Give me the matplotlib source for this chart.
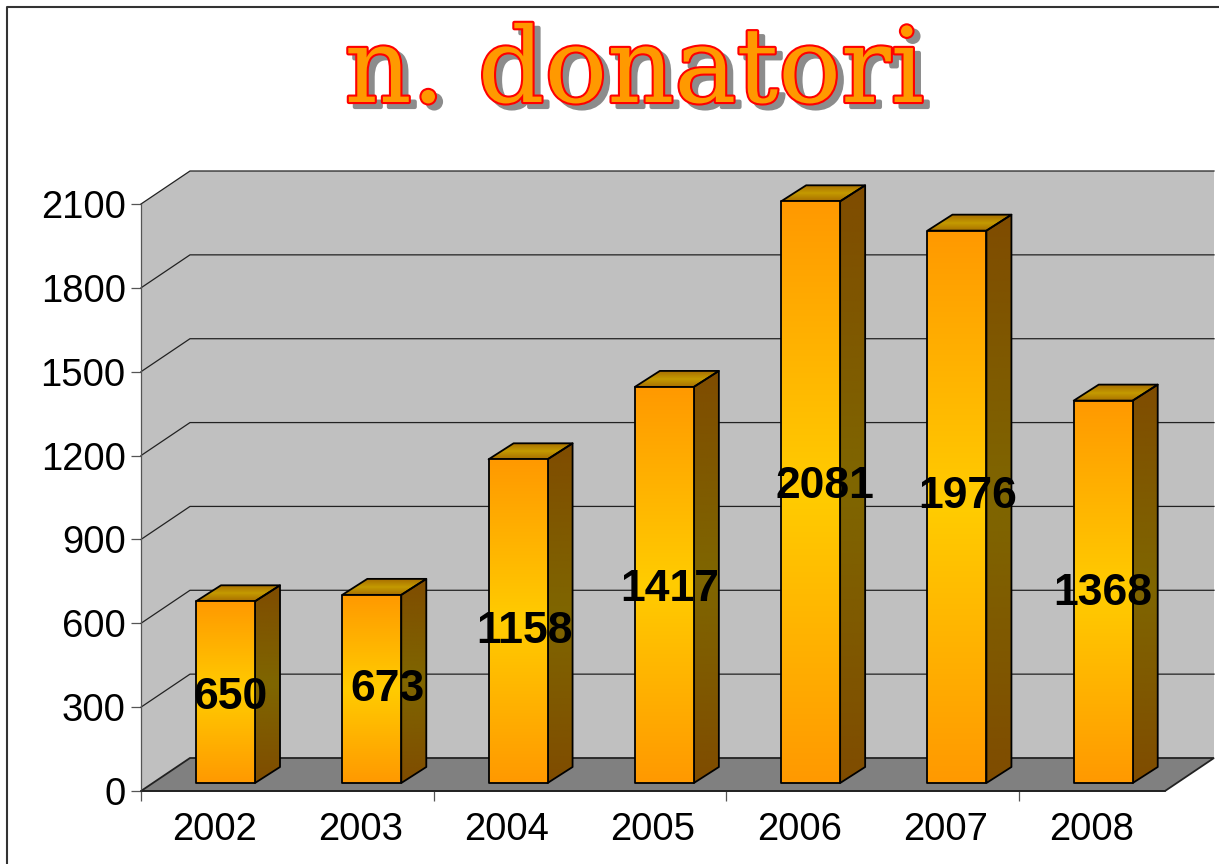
import matplotlib
matplotlib.use('Agg')
from matplotlib import pyplot as plt
from matplotlib.colors import LinearSegmentedColormap
from matplotlib.lines import Line2D
from matplotlib.patches import Polygon
import matplotlib.patheffects as pe
import numpy as np

years = ['2002', '2003', '2004', '2005', '2006', '2007', '2008']
donors = [650, 673, 1158, 1417, 2081, 1976, 1368]
y_ticks = [0, 300, 600, 900, 1200, 1500, 1800, 2100]
title = 'n. donatori'

# label nudges, pixels from bar middle
label_dx = [5, 16, 6, 5, 14, 11, 0]
label_dy = [-5, -1, -10, -5, 6, 10, -2]

W, H = 1219, 864
X0, X1, Y0, Y1 = 141, 1165, 791, 204

fig = plt.figure(figsize=(W / 100, H / 100), dpi=100)
ax = fig.add_axes([X0 / W, 1 - Y0 / H, (X1 - X0) / W, (Y0 - Y1) / H])
ax.set_xlim(0, 7)
ax.set_ylim(0, 2100)
ax.set_autoscale_on(False)
ax.patch.set_visible(False)

# pixels to data units
px_x = 7 / (X1 - X0)
px_y = 2100 / (Y0 - Y1)

wall_dx, wall_dy = 49 * px_x, 33 * px_y
bar_dx, bar_dy = 25 * px_x, 16 * px_y
bar_w = 59 * px_x
bar_off = 55 * px_x
bar_base = 8 * px_y

front_cm = LinearSegmentedColormap.from_list('front', ['#ff9900', '#ffcc00', '#ff9900'])
side_cm = LinearSegmentedColormap.from_list('side', ['#7f4c00', '#7f6600', '#7f4c00'])
top_cm = LinearSegmentedColormap.from_list('top', ['#a86f00', '#c49a00', '#a86f00'])
grad = np.linspace(0, 1, 256).reshape(-1, 1)


def poly(pts, **kw):
    p = Polygon(pts, closed=True, clip_on=False, **kw)
    ax.add_patch(p)
    return p


def face(pts, cmap, z):
    pts = np.array(pts)
    p = poly(pts, facecolor='none', edgecolor='black', linewidth=1.3, zorder=z + 0.1, joinstyle='round')
    im = ax.imshow(grad, cmap=cmap, aspect='auto', origin='lower', zorder=z, vmin=0, vmax=1,
                   extent=[pts[:, 0].min(), pts[:, 0].max(), pts[:, 1].min(), pts[:, 1].max()])
    # the top of the tall bars sticks out of the axes box
    im.set_clip_box(fig.bbox)
    im.set_clip_path(p)


# walls and floor
poly([(wall_dx, wall_dy), (7 + wall_dx, wall_dy), (7 + wall_dx, 2100 + wall_dy), (wall_dx, 2100 + wall_dy)],
     facecolor='#c0c0c0', edgecolor='none', zorder=1)
poly([(0, 0), (wall_dx, wall_dy), (wall_dx, 2100 + wall_dy), (0, 2100)],
     facecolor='#c0c0c0', edgecolor='none', zorder=1)
poly([(0, 0), (7, 0), (7 + wall_dx, wall_dy), (wall_dx, wall_dy)],
     facecolor='#808080', edgecolor='#222222', linewidth=1.3, zorder=1.5)

for v in y_ticks[1:]:
    ax.plot([0, wall_dx, 7 + wall_dx], [v, v + wall_dy, v + wall_dy], color='#222222', lw=0.9,
            clip_on=False, zorder=2)

# bars
for i, v in enumerate(donors):
    x = i + bar_off
    b = bar_base
    t = bar_base + v
    z = 3 + i
    face([(x + bar_w, b), (x + bar_w + bar_dx, b + bar_dy), (x + bar_w + bar_dx, t + bar_dy), (x + bar_w, t)], side_cm, z)
    face([(x, t), (x + bar_w, t), (x + bar_w + bar_dx, t + bar_dy), (x + bar_dx, t + bar_dy)], top_cm, z)
    face([(x, b), (x + bar_w, b), (x + bar_w, t), (x, t)], front_cm, z + 0.3)

for i, v in enumerate(donors):
    ax.annotate(str(v), (i + bar_off + bar_w / 2, bar_base + v / 2),
                xytext=(label_dx[i] * 0.72, label_dy[i] * 0.72), textcoords='offset points',
                ha='center', va='center', fontsize=32, fontweight='bold',
                family='Liberation Sans', color='black', zorder=20, annotation_clip=False)

# axes
for s in ['top', 'right']:
    ax.spines[s].set_visible(False)
ax.spines['left'].set_color('#555555')
ax.spines['left'].set_linewidth(0.9)
ax.spines['bottom'].set_color('#222222')
ax.spines['bottom'].set_linewidth(1.2)
ax.spines['left'].set_zorder(2.5)
ax.spines['bottom'].set_zorder(2.5)

ax.set_yticks(y_ticks)
ax.set_yticklabels([str(v) for v in y_ticks], family='Liberation Sans', fontsize=27.5)
ax.tick_params(axis='y', length=7, width=0.9, color='#555555', pad=4, labelcolor='black')
ax.set_xticks([0, 2, 4, 6])
ax.set_xticklabels([])
ax.tick_params(axis='x', which='major', length=7, width=0.9, color='#555555')
ax.set_xticks(np.arange(len(years)) + 0.5, minor=True)
ax.set_xticklabels(years, minor=True, family='Liberation Sans', fontsize=27.5)
ax.tick_params(axis='x', which='minor', length=0, pad=15, labelcolor='black')

# outer frame, only left and top show
frame_x, frame_y = 6.5 / W, 1 - 6.5 / H
fig.add_artist(Line2D([frame_x, frame_x, 1], [0, frame_y, frame_y], transform=fig.transFigure,
                      color='#333333', linewidth=1.5))

fig.text(634 / W, 1 - 102 / H, title, ha='center', va='baseline', family='DejaVu Serif',
         fontsize=75, color='#ff9900', zorder=5,
         path_effects=[pe.withStroke(linewidth=3, foreground='red')])
fig.text(640 / W, 1 - 107 / H, title, ha='center', va='baseline', family='DejaVu Serif',
         fontsize=75, color='#8c8c8c', zorder=4,
         path_effects=[pe.withStroke(linewidth=3, foreground='#8c8c8c')])

fig.savefig('out.png', dpi=100)
